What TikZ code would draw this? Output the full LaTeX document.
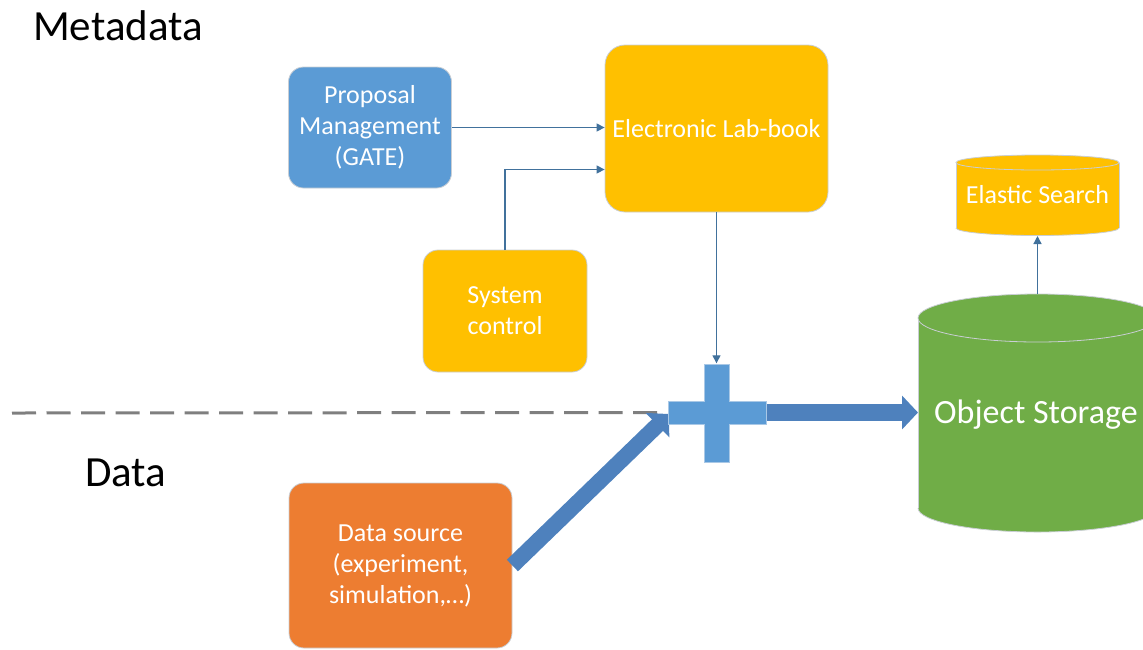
\documentclass[tikz,border=0pt]{standalone}
\usepackage{fontspec}
\setmainfont{Carlito}
\usetikzlibrary{arrows.meta,calc}
\definecolor{pblue}{HTML}{5B9BD5}
\definecolor{gold}{HTML}{FFC000}
\definecolor{orng}{HTML}{ED7D31}
\definecolor{grn}{HTML}{70AD47}
\definecolor{lnblue}{HTML}{41719C}
\definecolor{arblue}{HTML}{4E81BD}
\definecolor{edge}{HTML}{C9CED4}
\definecolor{crossedge}{HTML}{A9C8E6}
\definecolor{dashgray}{HTML}{7F7F7F}
\begin{document}
\begin{tikzpicture}[x=1pt,y=-1pt,
  box/.style={draw=edge, line width=0.8pt, text=white, align=center, inner sep=0pt,
    font=\fontsize{26}{31}\selectfont},
  heading/.style={font=\fontsize{43}{50}\selectfont, inner sep=0pt, anchor=base west},
  cyltext/.style={text=white, inner sep=0pt, anchor=base},
  thinarrow/.style={draw=lnblue, line width=1.3pt, -{Triangle[length=8pt,width=8pt]}},
  thickarrow/.style={draw=arblue, line width=17pt, -{Triangle[length=16pt,width=33pt]}},
  dashline/.style={draw=dashgray, line width=3pt, dash pattern=on 24pt off 10.5pt}
]
\useasboundingbox (0,0) rectangle (1143,649);
\clip (0,0) rectangle (1143,649);

% headings
\node[heading] (meta) at (33,40) {Metadata};
\node[heading] (data) at (85,486) {Data};

% boxes
\node[box, fill=pblue, minimum width=163, minimum height=121, rounded corners=15] (prop) at (370,127.5) {Proposal\\Management\\(GATE)};
\node[box, fill=gold, minimum width=223, minimum height=167, rounded corners=20] (lab) at (716.5,128.5) {Electronic Lab-book};
\node[box, fill=gold, minimum width=164, minimum height=122, rounded corners=15] (sc) at (505,311) {System\\control};
\node[box, fill=orng, minimum width=223, minimum height=165, rounded corners=15] (ds) at (400.5,565.5) {Data source\\(experiment,\\simulation,\ldots)};

% Elastic Search cylinder
\fill[gold] (956,162.5) rectangle (1119,228);
\fill[gold] (1037.5,228) ellipse [x radius=81.5, y radius=7.5];
\draw[edge, line width=0.8pt] (956,162.5) -- (956,228) (1119,162.5) -- (1119,228);
\begin{scope}
  \clip (950,228) rectangle (1125,240);
  \draw[edge, line width=0.8pt] (1037.5,228) ellipse [x radius=81.5, y radius=7.5];
\end{scope}
\filldraw[fill=gold, draw=edge, line width=0.8pt] (1037.5,162.5) ellipse [x radius=81.5, y radius=7.5];
\node[cyltext, font=\fontsize{26}{31}\selectfont] (es) at (1037.5,203) {Elastic Search};
\coordinate (esbot) at (1037.5,236);

% Object Storage cylinder
\fill[grn] (918,318) rectangle (1157,508);
\fill[grn] (1037.5,508) ellipse [x radius=119.5, y radius=24];
\draw[edge, line width=0.8pt] (918,318) -- (918,508);
\begin{scope}
  \clip (910,508) rectangle (1160,540);
  \draw[edge, line width=0.8pt] (1037.5,508) ellipse [x radius=119.5, y radius=24];
\end{scope}
\filldraw[fill=grn, draw=edge, line width=0.8pt] (1037.5,318) ellipse [x radius=119.5, y radius=24];
\node[cyltext, font=\fontsize{34}{40}\selectfont] (os) at (1036,423) {Object Storage};
\coordinate (ostop) at (1037.5,294);
\coordinate (oswest) at (918,412.5);

% plus junction
\node[minimum width=98, minimum height=98, inner sep=0pt] (plus) at (716.5,412.5) {};
\coordinate (dashstart) at (12,413);
\coordinate (dtip) at (669,414);

% dashed separator
\draw[dashline] (dashstart) -- (plus.west);

% thick arrows
\draw[thickarrow, line width=16pt] (ds.east) -- (dtip);
\draw[thickarrow] (plus.east) -- (oswest);

% plus shape
\filldraw[fill=pblue, draw=crossedge, line width=0.8pt]
  (704,364) -- (729,364) -- (729,401) -- (766,401) -- (766,424) -- (729,424)
  -- (729,462) -- (704,462) -- (704,424) -- (668,424) -- (668,401) -- (704,401) -- cycle;

% thin arrows
\draw[thinarrow] (prop.east) -- (prop.east -| lab.west);
\draw[thinarrow] (sc.north) |- ($(lab.west)+(0,41)$);
\draw[thinarrow] (lab.south) -- (plus.north);
\draw[thinarrow] (ostop) -- (esbot);
\end{tikzpicture}
\end{document}
